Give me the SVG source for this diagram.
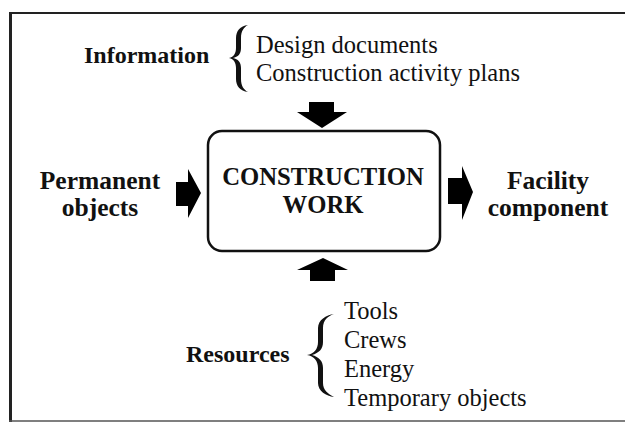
<svg xmlns="http://www.w3.org/2000/svg" width="625" height="423" viewBox="0 0 625 423">
<style>
.b{font-family:"Liberation Serif","Times New Roman",serif;font-weight:bold;font-size:24px;fill:#111}
.s{font-size:25.5px}
.r{font-family:"Liberation Serif","Times New Roman",serif;font-size:24.5px;fill:#111}
.arr{fill:#000}
.brace{fill:#111}
</style>
<rect width="625" height="423" fill="#fff"/>
<g id="frame" fill="none" stroke="#222">
<line x1="10.5" y1="12" x2="10.5" y2="422" stroke-width="3"/>
<line x1="9" y1="13" x2="625" y2="13" stroke-width="2"/>
<line x1="9" y1="421" x2="625" y2="421" stroke-width="1.6" stroke="#555"/>
</g>
<g id="work">
<rect x="208" y="131" width="232" height="120" rx="14" fill="#fff" stroke="#111" stroke-width="2.5"/>
<text class="b" x="323" y="185" text-anchor="middle" style="font-size:24.7px">CONSTRUCTION</text>
<text class="b" x="323" y="213" text-anchor="middle" style="font-size:24.7px">WORK</text>
</g>
<g id="information">
<text class="b" x="84" y="63">Information</text>
<path class="brace" d="M248 25 C240 26 236 31 236 38 L236 48 C236 53 234 57 229 58 C234 59 236 63 236 68 L236 79 C236 86 240 91 248 92 C244 90 241 86 241 79 L241 68 C241 62 238 59 233 58 C238 57 241 54 241 48 L241 38 C241 31 244 27 248 25 Z"/>
<text class="r" x="256" y="53">Design documents</text>
<text class="r" x="256" y="81">Construction activity plans</text>
</g>
<g id="permanent">
<text class="b s" x="100" y="189" text-anchor="middle">Permanent</text>
<text class="b s" x="100" y="216" text-anchor="middle">objects</text>
</g>
<g id="facility">
<text class="b s" x="548" y="189" text-anchor="middle">Facility</text>
<text class="b s" x="548" y="216" text-anchor="middle">component</text>
</g>
<g id="resources">
<text class="b" x="186" y="362">Resources</text>
<path class="brace" d="M334 314 C326 315 318 320 318 328 L318 342 C318 349 314 354 307 355 C314 356 318 361 318 368 L318 383 C318 391 326 396 334 397 C328 394 323 390 323 383 L323 368 C323 361 319 357 312 355 C319 353 323 349 323 342 L323 328 C323 320 328 316 334 314 Z"/>
<text class="r" x="344" y="319">Tools</text>
<text class="r" x="344" y="348">Crews</text>
<text class="r" x="344" y="377">Energy</text>
<text class="r" x="344" y="406">Temporary objects</text>
</g>
<g id="connectors">
<polygon class="arr" points="309,102 334,102 334,112 347,112 322,128 297,112 309,112"/>
<polygon class="arr" points="323,258 348,270 335,270 335,281 310,281 310,270 297,270"/>
<polygon class="arr" points="176,182 188,182 188,169 201,193 188,218 188,206 176,206"/>
<polygon class="arr" points="448,178 462,178 462,166 473,192 462,220 462,204 448,204"/>
</g>
</svg>
